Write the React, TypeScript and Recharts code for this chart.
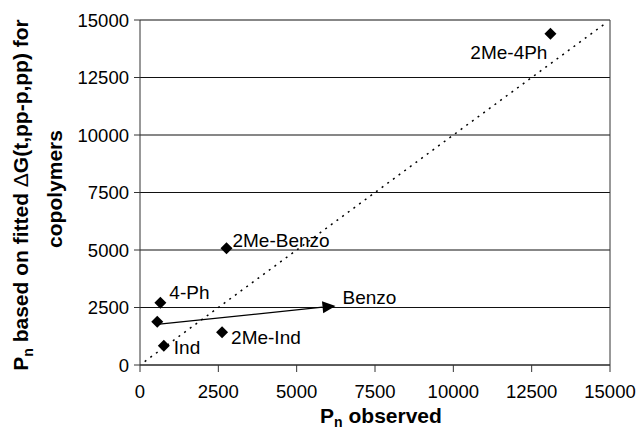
import React from 'react';
import { ScatterChart, Scatter, XAxis, YAxis, CartesianGrid, ReferenceLine, LabelList } from 'recharts';

// copolymer points: observed Pn vs Pn from fitted dG
const pointNames = ['2Me-4Ph', '2Me-Benzo', '4-Ph', '', 'Ind', '2Me-Ind'];
const observed = [13100, 2760, 650, 550, 760, 2620];
const fitted = [14400, 5080, 2710, 1880, 840, 1420];

// y = x parity line
const parityX = [150, 14850];
const parityY = [150, 14850];

// arrow towards Benzo
const arrowX = [620, 6240];
const arrowY = [1780, 2570];
const arrowName = 'Benzo';

const axisTicks = [0, 2500, 5000, 7500, 10000, 12500, 15000];

const FONT = '"Liberation Sans", Arial, Helvetica, sans-serif';

const labelPlace: Record<string, { dx: number; dy: number; anchor: 'start' | 'end' }> = {
  '2Me-4Ph': { dx: -3, dy: 19, anchor: 'end' },
  '2Me-Benzo': { dx: 6, dy: -8, anchor: 'start' },
  '4-Ph': { dx: 9, dy: -10, anchor: 'start' },
  'Ind': { dx: 10, dy: 2, anchor: 'start' },
  '2Me-Ind': { dx: 9, dy: 5, anchor: 'start' },
};

const points = observed.map((x, i) => ({ x, y: fitted[i], name: pointNames[i] }));

const Diamond = (props: any) => {
  const { cx, cy } = props;
  const r = 6;
  return <polygon points={`${cx},${cy - r} ${cx + r},${cy} ${cx},${cy + r} ${cx - r},${cy}`} fill="#000" />;
};

const PointLabel = (props: any) => {
  const { x, y, width, height, value } = props;
  if (!value) return null;
  const p = labelPlace[value];
  const cx = x + width / 2;
  const cy = y + height / 2;
  return (
    <text x={cx + p.dx} y={cy + p.dy} dy="0.35em" textAnchor={p.anchor} fontSize={19} fontFamily={FONT} fill="#000">
      {value}
    </text>
  );
};

const Arrow = (props: any) => {
  const { x1, y1, x2, y2 } = props;
  const ang = Math.atan2(y2 - y1, x2 - x1);
  const len = 13;
  const half = 6;
  const bx = x2 - len * Math.cos(ang);
  const by = y2 - len * Math.sin(ang);
  const px = -Math.sin(ang) * half;
  const py = Math.cos(ang) * half;
  return (
    <g>
      <line x1={x1} y1={y1} x2={bx} y2={by} stroke="#000" strokeWidth={1.3} />
      <polygon points={`${x2},${y2} ${bx + px},${by + py} ${bx - px},${by - py}`} fill="#000" />
      <text x={x2 + 7} y={y2 - 9} dy="0.35em" fontSize={19} fontFamily={FONT} fill="#000">
        {arrowName}
      </text>
    </g>
  );
};

const YTitle = () => (
  <g fontFamily={FONT} fontWeight="bold" fontSize={21} fill="#000">
    <text x={28} y={195} textAnchor="middle" transform="rotate(-90, 28, 195)">
      P<tspan fontSize={14} dy={5}>n</tspan>
      <tspan dy={-5}> based on fitted </tspan>
      <tspan fontWeight="normal">Δ</tspan>
      <tspan>G(t,pp-p,pp) for</tspan>
    </text>
    <text x={62} y={189} textAnchor="middle" transform="rotate(-90, 62, 189)">
      copolymers
    </text>
  </g>
);

const XTitle = () => (
  <text x={381} y={423} textAnchor="middle" fontFamily={FONT} fontWeight="bold" fontSize={21} fill="#000">
    P<tspan fontSize={14} dy={4}>n</tspan>
    <tspan dy={-4}> observed</tspan>
  </text>
);

export default function App() {
  const tick = { fill: '#000', fontSize: 18.5, fontFamily: FONT };
  return (
    <div style={{ position: 'absolute', left: 0, top: 0, width: 637, height: 431, background: '#fff' }}>
      <ScatterChart width={637} height={431} margin={{ top: 20, right: 27, left: 0, bottom: 0 }}>
        <CartesianGrid vertical={false} stroke="#111" strokeWidth={1.2} />
        <XAxis
          type="number"
          dataKey="x"
          domain={[0, 15000]}
          ticks={axisTicks}
          interval={0}
          height={66}
          tickSize={7}
          tickMargin={13}
          tick={tick}
          stroke="#333"
          label={{ content: () => <XTitle /> }}
        />
        <YAxis
          type="number"
          dataKey="y"
          domain={[0, 15000]}
          ticks={axisTicks}
          interval={0}
          width={140}
          tickSize={6}
          tickMargin={5}
          tick={tick}
          stroke="#333"
          label={{ content: () => <YTitle /> }}
        />
        <ReferenceLine x={15000} stroke="#333" />
        <ReferenceLine
          segment={[{ x: parityX[0], y: parityY[0] }, { x: parityX[1], y: parityY[1] }]}
          stroke="#000"
          strokeWidth={1.5}
          strokeDasharray="2 5"
        />
        <ReferenceLine
          segment={[{ x: arrowX[0], y: arrowY[0] }, { x: arrowX[1], y: arrowY[1] }]}
          shape={(p: any) => <Arrow {...p} />}
        />
        <Scatter data={points} shape={<Diamond />} isAnimationActive={false}>
          <LabelList dataKey="name" content={<PointLabel />} />
        </Scatter>
      </ScatterChart>
    </div>
  );
}
